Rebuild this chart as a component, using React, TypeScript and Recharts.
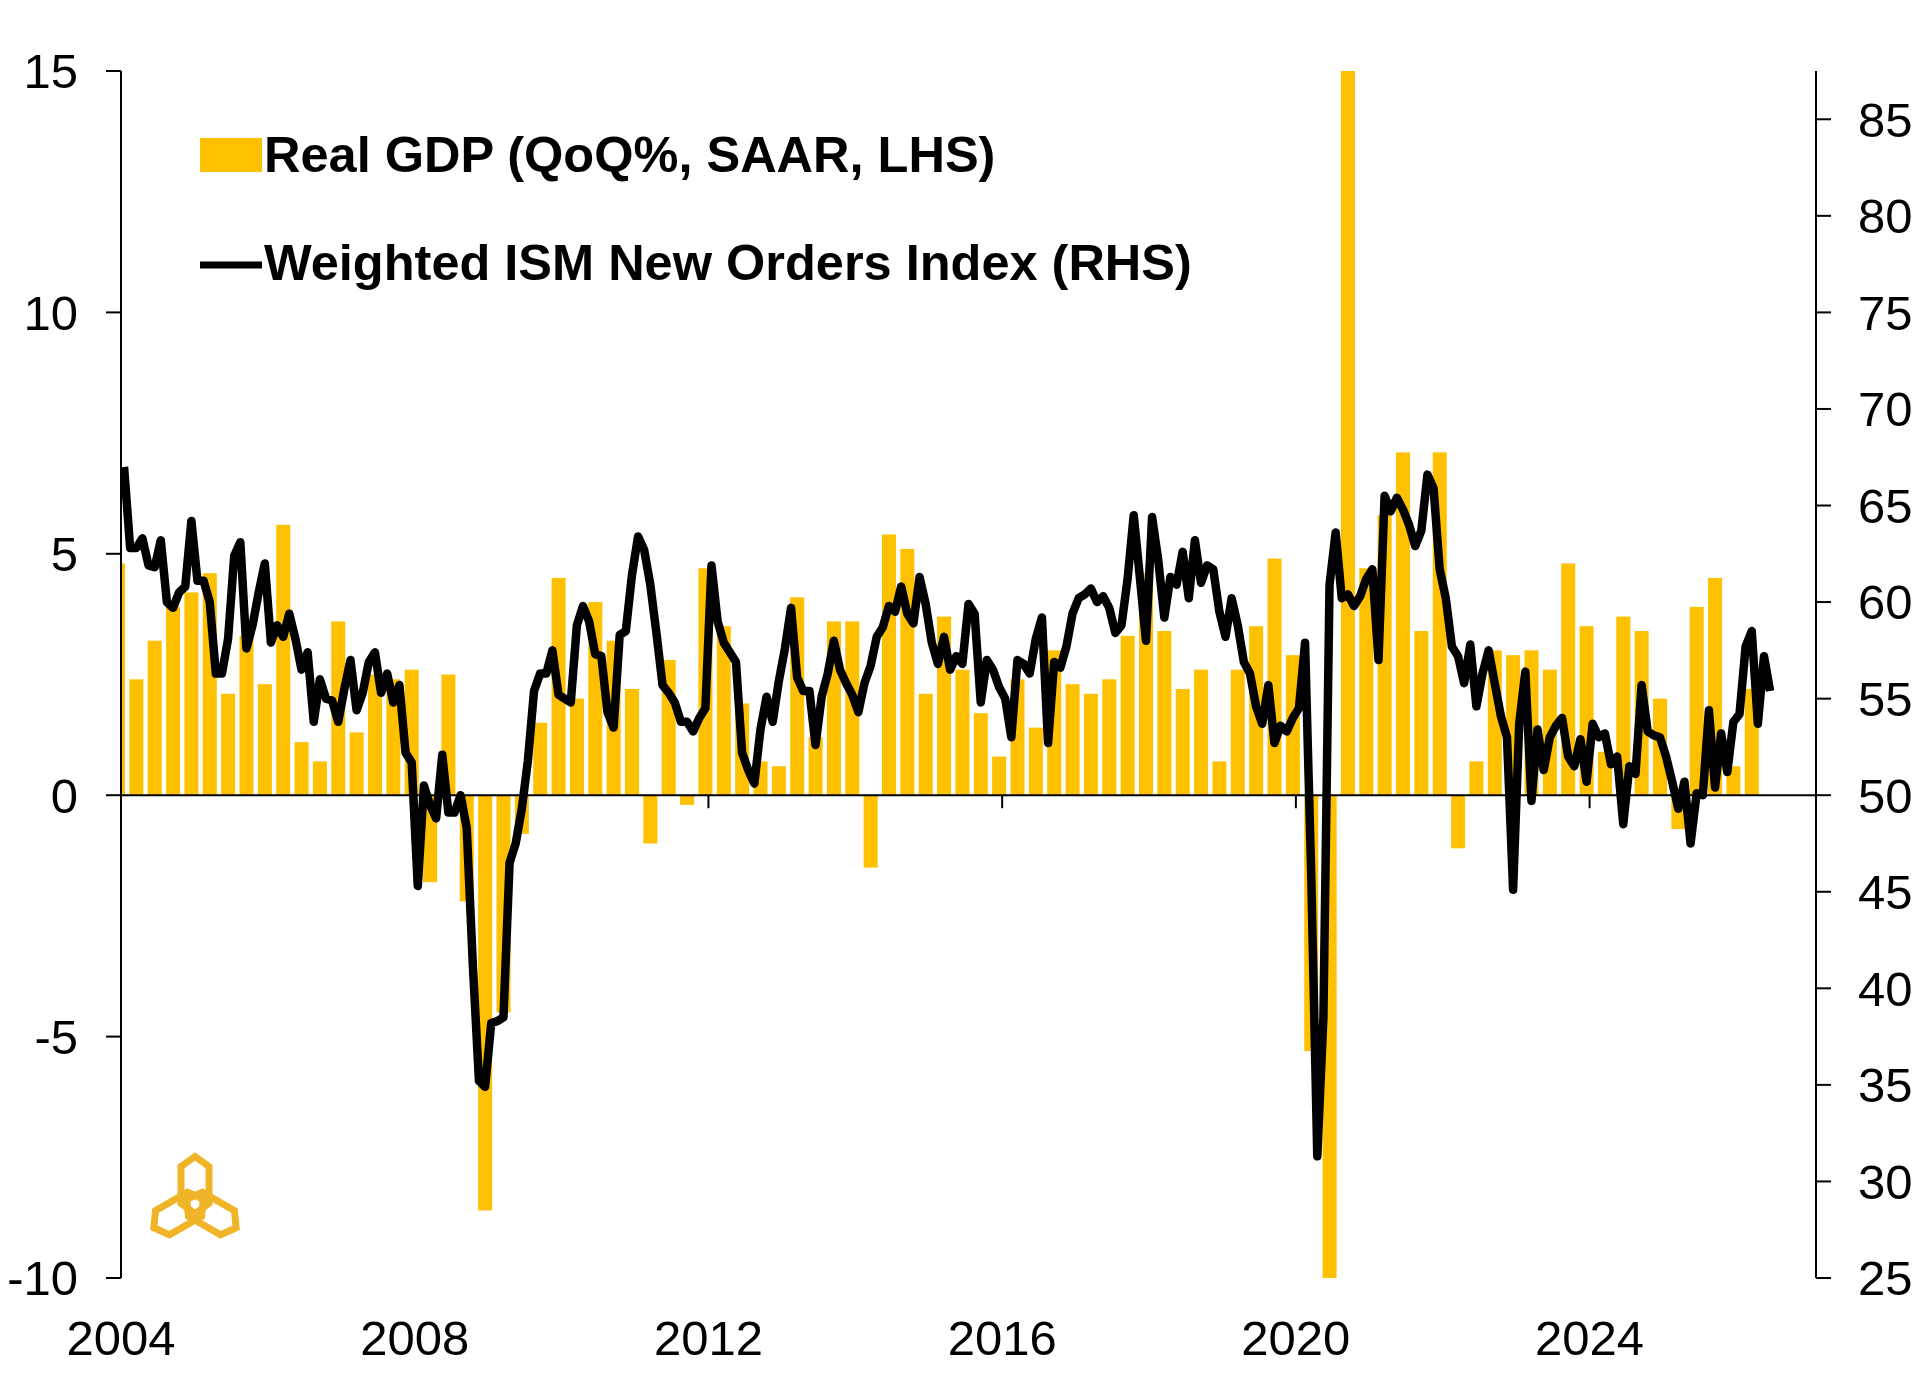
import React from "react";
import {
  ComposedChart,
  Bar,
  Line,
  XAxis,
  YAxis,
  ReferenceLine,
  Legend,
} from "recharts";

const FONT = '"Liberation Sans", Arial, sans-serif';
const GOLD = "#FFC000";
const LOGO_GOLD = "#F0B428";
const BAR_WIDTH = 14;

const FIRST_YEAR = 2004;
const YEAR_TICKS = [2004, 2008, 2012, 2016, 2020, 2024];
const LEFT_TICKS = [-10, -5, 0, 5, 10, 15];
const RIGHT_TICKS = [25, 30, 35, 40, 45, 50, 55, 60, 65, 70, 75, 80, 85];
const X_END_MONTH = 277;

const GDP_LABEL = "Real GDP (QoQ%, SAAR, LHS)";
const ISM_LABEL = "Weighted ISM New Orders Index (RHS)";

// real GDP, QoQ% SAAR, quarterly from 2003 Q4 to 2026 Q1
const GDP = [
  4.8,
  2.4, 3.2, 3.9, 4.2,
  4.6, 2.1, 3.3, 2.3,
  5.6, 1.1, 0.7, 3.6,
  1.3, 2.5, 2.4, 2.6,
  -1.8, 2.5, -2.2, -8.6,
  -4.5, -0.8, 1.5, 4.5,
  2.0, 4.0, 3.2, 2.2,
  -1.0, 2.8, -0.2, 4.7,
  3.5, 1.9, 0.7, 0.6,
  4.1, 1.2, 3.6, 3.6,
  -1.5, 5.4, 5.1, 2.1,
  3.7, 2.6, 1.7, 0.8,
  2.4, 1.4, 3.0, 2.3,
  2.1, 2.4, 3.3, 4.6,
  3.4, 2.2, 2.6, 0.7,
  2.6, 3.5, 4.9, 2.9,
  -5.3, -28.0, 35.0, 4.7,
  5.8, 7.1, 3.4, 7.1,
  -1.1, 0.7, 3.0, 2.9,
  3.0, 2.6, 4.8, 3.5,
  0.9, 3.7, 3.4, 2.0,
  -0.7, 3.9, 4.5, 0.6,
  2.2,
];

// weighted ISM new orders, monthly from Jan 2004 to Jun 2026
const ISM = [
  67.0, 62.8, 62.8, 63.3, 61.9, 61.8, 63.2, 60.0, 59.7, 60.5, 60.8, 64.2, // 2004
  61.1, 61.1, 60.0, 56.3, 56.3, 58.1, 62.4, 63.1, 57.6, 58.8, 60.5, 62.0, // 2005
  57.9, 58.8, 58.2, 59.4, 58.1, 56.5, 57.4, 53.8, 56.0, 55.0, 54.9, 53.8, // 2006
  55.5, 57.0, 54.4, 55.3, 56.9, 57.4, 55.3, 56.3, 54.8, 55.7, 52.2, 51.7, // 2007
  45.3, 50.5, 49.5, 48.8, 52.1, 49.1, 49.1, 50.0, 48.3, 41.2, 35.2, 34.9, // 2008
  38.2, 38.3, 38.5, 46.5, 47.5, 49.3, 51.8, 55.4, 56.3, 56.3, 57.5, 55.2, // 2009
  55.0, 54.8, 58.8, 59.8, 59.0, 57.3, 57.2, 54.3, 53.5, 58.3, 58.5, 61.4, // 2010
  63.4, 62.7, 60.9, 58.4, 55.7, 55.3, 54.8, 53.8, 53.8, 53.3, 54.0, 54.5, // 2011
  61.9, 59.0, 57.9, 57.4, 56.9, 52.2, 51.3, 50.6, 53.4, 55.1, 53.8, 55.9, // 2012
  57.6, 59.7, 56.1, 55.4, 55.4, 52.6, 55.1, 56.3, 58.0, 56.5, 55.8, 55.2, // 2013
  54.3, 55.8, 56.7, 58.2, 58.7, 59.8, 59.5, 60.8, 59.4, 58.9, 61.3, 59.9, // 2014
  57.9, 56.8, 58.2, 56.5, 57.2, 56.8, 59.9, 59.4, 54.8, 57.0, 56.5, 55.6, // 2015
  55.0, 53.0, 57.0, 56.8, 56.3, 58.1, 59.2, 52.7, 56.9, 56.6, 57.7, 59.4, // 2016
  60.2, 60.4, 60.7, 60.0, 60.3, 59.7, 58.4, 58.8, 61.2, 64.5, 61.3, 58.0, // 2017
  64.4, 62.2, 59.2, 61.3, 60.9, 62.6, 60.2, 63.2, 61.0, 61.9, 61.7, 59.5, // 2018
  58.2, 60.2, 58.8, 56.9, 56.3, 54.6, 53.7, 55.7, 52.7, 53.6, 53.3, 54.0, // 2019
  54.5, 57.9, 46.0, 31.3, 38.5, 60.9, 63.6, 60.2, 60.4, 59.8, 60.3, 61.2, // 2020
  61.7, 57.0, 65.5, 64.7, 65.4, 64.8, 64.0, 62.9, 63.7, 66.6, 65.9, 61.7, // 2021
  60.2, 57.7, 57.2, 55.8, 57.8, 54.6, 56.3, 57.5, 55.8, 54.1, 53.0, 45.1, // 2022
  53.7, 56.4, 49.7, 53.4, 51.3, 53.0, 53.6, 54.0, 52.0, 51.5, 52.9, 50.7, // 2023
  53.7, 53.0, 53.2, 51.6, 52.0, 48.5, 51.5, 51.1, 55.7, 53.3, 53.1, 53.0, // 2024
  52.0, 50.7, 49.3, 50.7, 47.5, 50.1, 50.0, 54.4, 50.4, 53.2, 51.2, 53.8, // 2025
  54.2, 57.7, 58.5, 53.7, 57.2, 55.4, // 2026
];

// one row per month (x = months since Jan 2004, mid-month); GDP sits on the last month of its quarter
const data: { t: number; ism: number | null; gdp: number | null }[] = [];
for (let m = -1; m < ISM.length; m++) {
  const q = (m + 1) % 3 === 0 ? (m + 1) / 3 : -1;
  data.push({
    t: m + 0.5,
    ism: m >= 0 ? ISM[m] : null,
    gdp: q >= 0 && q < GDP.length ? GDP[q] : null,
  });
}

const xTicks = YEAR_TICKS.map((y) => (y - FIRST_YEAR) * 12);

function GdpBar(props: any) {
  const { x, y, width, height } = props;
  if (![x, y, width, height].every((v) => Number.isFinite(v)) || height === 0) return null;
  const top = height < 0 ? y + height : y;
  return (
    <rect
      x={x + width / 2 - BAR_WIDTH / 2}
      y={top}
      width={BAR_WIDTH}
      height={Math.abs(height)}
      fill={GOLD}
    />
  );
}

function LegendBox() {
  const textStyle = { fontSize: 50.5, fontWeight: 700, fontFamily: FONT, fill: "#000" };
  return (
    <svg width={1100} height={200} style={{ display: "block" }}>
      <rect x={10} y={18} width={62} height={34} fill={GOLD} />
      <text x={74} y={52} style={textStyle}>
        {GDP_LABEL}
      </text>
      <line x1={10} x2={72} y1={145} y2={145} stroke="#000" strokeWidth={7} />
      <text x={74} y={160} style={textStyle}>
        {ISM_LABEL}
      </text>
    </svg>
  );
}

// one link of the logo: a hexagon stretched along its vertical axis
function linkPath(cx: number, cy: number, w: number, h: number, p: number) {
  return (
    `M${cx},${cy - h} L${cx + w},${cy - h + p} L${cx + w},${cy + h - p} ` +
    `L${cx},${cy + h} L${cx - w},${cy + h - p} L${cx - w},${cy - h + p} Z`
  );
}

function Logo() {
  const cx = 50;
  const cy = 59;
  return (
    <svg
      width={100}
      height={100}
      style={{ position: "absolute", left: 145, top: 1145 }}
    >
      <g fill="none" stroke={LOGO_GOLD} strokeWidth={7} strokeLinejoin="miter">
        {[0, 120, 240].map((a) => (
          <path
            key={a}
            transform={`rotate(${a} ${cx} ${cy})`}
            d={linkPath(cx, cy - 19, 14, 28.5, 10)}
          />
        ))}
      </g>
    </svg>
  );
}

const axisStroke = { stroke: "#000", strokeWidth: 2 };
const tickFont = { fontSize: 49, fill: "#000", fontFamily: FONT };

export default function App() {
  return (
    <div
      style={{
        position: "absolute",
        left: 0,
        top: 0,
        width: 1920,
        height: 1392,
        background: "#fff",
      }}
    >
      <ComposedChart
        width={1920}
        height={1392}
        data={data}
        margin={{ top: 71, right: 4, bottom: 34, left: 21 }}
      >
        <XAxis
          dataKey="t"
          type="number"
          domain={[0, X_END_MONTH]}
          allowDataOverflow
          ticks={xTicks}
          interval={0}
          tickFormatter={(v: number) => String(FIRST_YEAR + Math.round(v / 12))}
          axisLine={false}
          tickLine={false}
          tickSize={0}
          tickMargin={42}
          height={80}
          tick={tickFont}
        />
        <YAxis
          yAxisId="left"
          orientation="left"
          domain={[-10, 15]}
          allowDataOverflow
          ticks={LEFT_TICKS}
          interval={0}
          width={100}
          axisLine={axisStroke}
          tickLine={axisStroke}
          tickSize={15}
          tickMargin={28}
          tick={tickFont}
        />
        <YAxis
          yAxisId="right"
          orientation="right"
          domain={[25, 87.5]}
          allowDataOverflow
          ticks={RIGHT_TICKS}
          interval={0}
          width={100}
          axisLine={axisStroke}
          tickLine={axisStroke}
          tickSize={15}
          tickMargin={27}
          tick={tickFont}
        />
        <Legend
          layout="vertical"
          align="center"
          verticalAlign="middle"
          content={() => <LegendBox />}
          wrapperStyle={{ left: 190, top: 120, width: 1100, height: 200 }}
        />
        <Bar
          yAxisId="left"
          dataKey="gdp"
          name={GDP_LABEL}
          fill={GOLD}
          shape={GdpBar}
          isAnimationActive={false}
        />
        <ReferenceLine yAxisId="left" y={0} stroke="#000" strokeWidth={2} />
        {xTicks.slice(1).map((t) => (
          <ReferenceLine
            key={t}
            yAxisId="left"
            segment={[
              { x: t, y: 0 },
              { x: t, y: -0.27 },
            ]}
            stroke="#000"
            strokeWidth={2}
          />
        ))}
        <Line
          yAxisId="right"
          dataKey="ism"
          name={ISM_LABEL}
          type="linear"
          stroke="#000"
          strokeWidth={8.5}
          strokeLinejoin="round"
          dot={false}
          activeDot={false}
          isAnimationActive={false}
        />
      </ComposedChart>
      <Logo />
    </div>
  );
}
